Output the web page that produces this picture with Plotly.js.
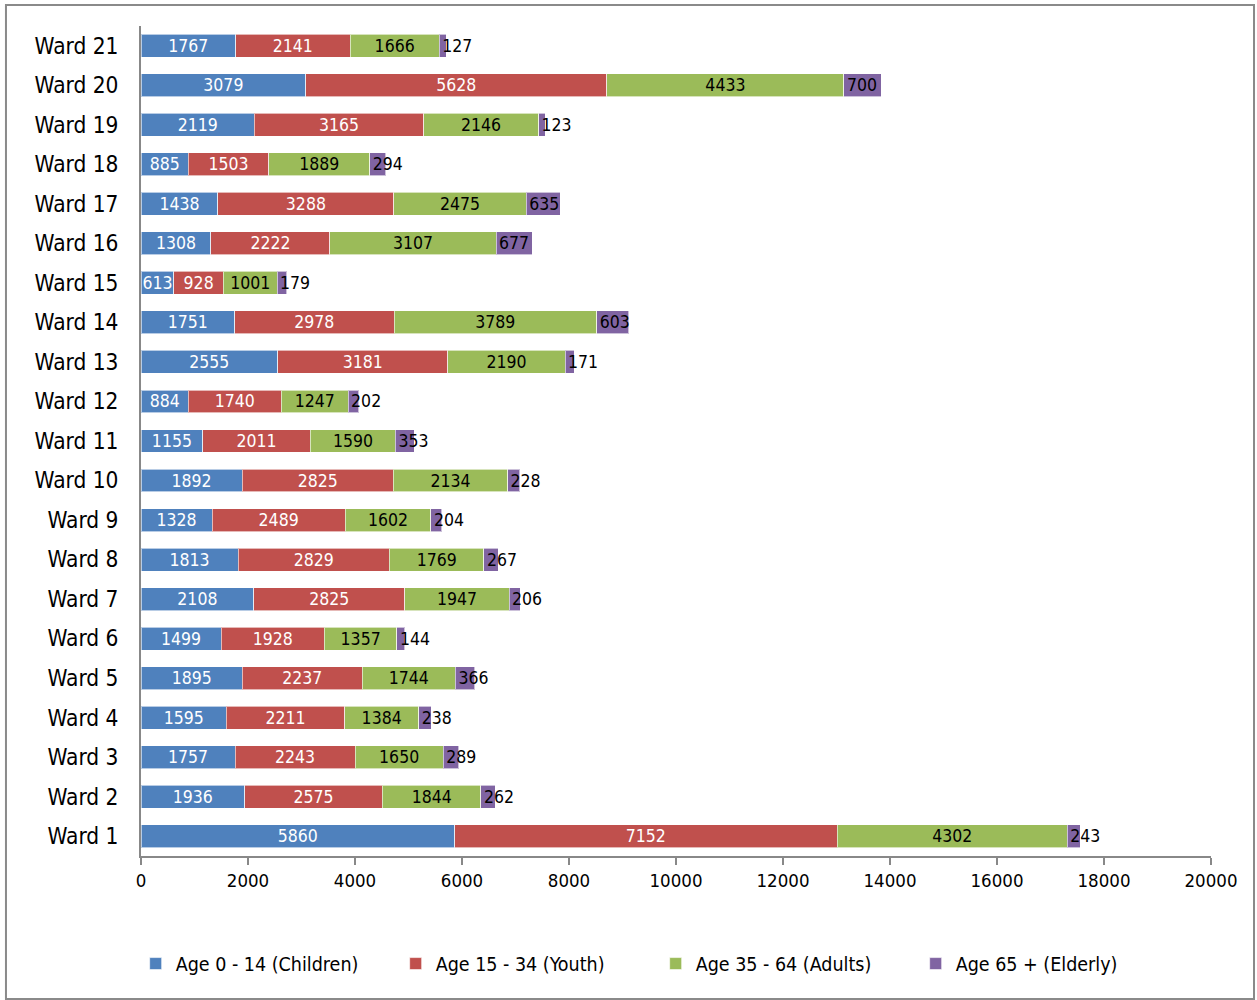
<!DOCTYPE html>
<html>
<head>
<meta charset="utf-8">
<script src="https://cdn.plot.ly/plotly-3.0.1.min.js"></script>
<style>html,body{margin:0;padding:0;background:#fff;}#chart{width:1257px;height:1000px;}</style>
</head>
<body>
<div id="chart"></div>
<script>
const wards = ["Ward 1","Ward 2","Ward 3","Ward 4","Ward 5","Ward 6","Ward 7","Ward 8","Ward 9","Ward 10","Ward 11","Ward 12","Ward 13","Ward 14","Ward 15","Ward 16","Ward 17","Ward 18","Ward 19","Ward 20","Ward 21"];
const children = [5860,1936,1757,1595,1895,1499,2108,1813,1328,1892,1155,884,2555,1751,613,1308,1438,885,2119,3079,1767];
const youth    = [7152,2575,2243,2211,2237,1928,2825,2829,2489,2825,2011,1740,3181,2978,928,2222,3288,1503,3165,5628,2141];
const adults   = [4302,1844,1650,1384,1744,1357,1947,1769,1602,2134,1590,1247,2190,3789,1001,3107,2475,1889,2146,4433,1666];
const elderly  = [243,262,289,238,366,144,206,267,204,228,353,202,171,603,179,677,635,294,123,700,127];
const seriesNames = ["Age 0 - 14 (Children)","Age 15 - 34 (Youth)","Age 35 - 64 (Adults)","Age 65 + (Elderly)"];
const xTicks = [0,2000,4000,6000,8000,10000,12000,14000,16000,18000,20000];

const FONT = '"Liberation Sans Narrow","Arial Narrow","DejaVu Sans Condensed",Arial,sans-serif';
const colors = ["#4F81BD","#C0504D","#9BBB59","#8064A2"];
const textColors = ["#ffffff","#ffffff","#000000","#000000"];
const values = [children, youth, adults, elderly];

const traces = values.map((v, i) => ({
  type: 'bar',
  orientation: 'h',
  name: seriesNames[i],
  y: wards,
  x: v,
  text: v.map(String),
  textposition: 'inside',
  insidetextanchor: i === 3 ? 'start' : 'middle',
  constraintext: 'none',
  textangle: 0,
  textfont: {family: FONT, size: 17.5, color: textColors[i]},
  marker: {color: colors[i], line: {color: 'rgba(255,255,255,0.6)', width: 1}},
  cliponaxis: false,
  hoverinfo: 'x+y+name'
}));

const layout = {
  width: 1257,
  height: 1000,
  barmode: 'stack',
  bargap: 0.42,
  paper_bgcolor: '#ffffff',
  plot_bgcolor: '#ffffff',
  margin: {l: 141, r: 46, t: 26, b: 144, pad: 0},
  font: {family: FONT, size: 19, color: '#000'},
  showlegend: true,
  legend: {
    orientation: 'h',
    x: 0.481, xanchor: 'center',
    y: -0.13, yanchor: 'middle',
    font: {family: FONT, size: 19.5, color: '#000'},
    traceorder: 'normal',
    itemwidth: 30,
    entrywidth: 215,
    entrywidthmode: 'pixels'
  },
  xaxis: {
    range: [0, 20000],
    tickvals: xTicks,
    ticktext: xTicks.map(String),
    showgrid: false,
    zeroline: false,
    showline: true,
    linecolor: '#888888',
    linewidth: 2,
    ticks: 'outside',
    ticklen: 7,
    tickwidth: 2,
    tickcolor: '#888888',
    tickfont: {family: FONT, size: 18.5, color: '#000'},
    fixedrange: true
  },
  yaxis: {
    type: 'category',
    categoryorder: 'array',
    categoryarray: wards,
    showgrid: false,
    zeroline: false,
    showline: true,
    linecolor: '#888888',
    linewidth: 2,
    ticks: '',
    ticklabelstandoff: 16,
    tickfont: {family: FONT, size: 22.5, color: '#000'},
    fixedrange: true
  },
  shapes: [{
    type: 'rect', xref: 'paper', yref: 'paper',
    x0: -0.1262, x1: 1.0402, y0: -0.1723, y1: 1.0253,
    line: {color: '#8a8a8a', width: 2},
    fillcolor: 'rgba(0,0,0,0)',
    layer: 'below'
  }]
};

Plotly.newPlot('chart', traces, layout, {displayModeBar: false, staticPlot: true});
</script>
</body>
</html>
